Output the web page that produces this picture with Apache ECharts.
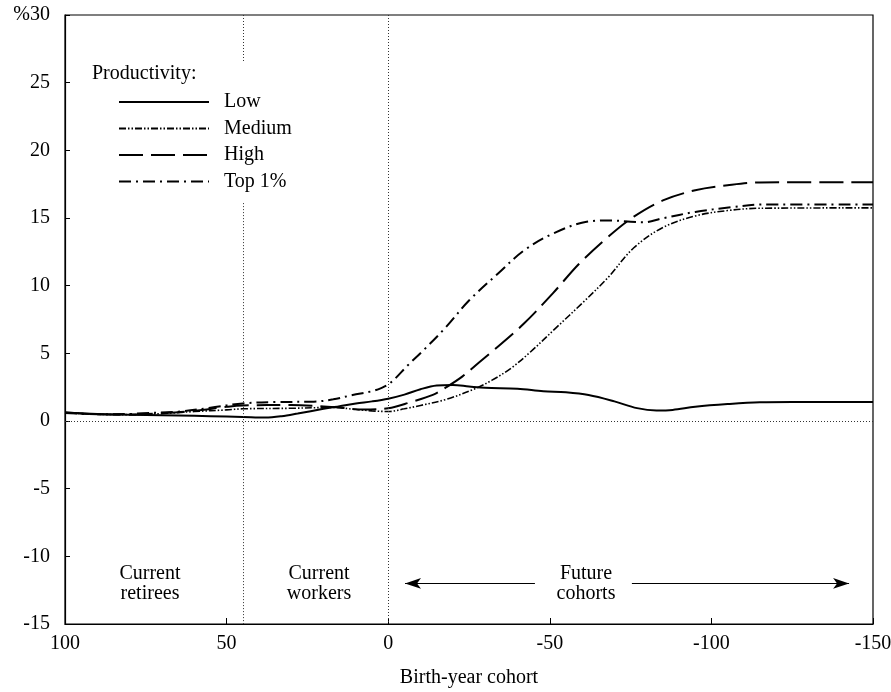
<!DOCTYPE html>
<html>
<head>
<meta charset="utf-8">
<script src="https://cdn.jsdelivr.net/npm/echarts@6/dist/echarts.min.js"></script>
<style>
html,body{margin:0;padding:0;background:#fff;}
#chart{width:891px;height:692px;}
</style>
</head>
<body>
<div id="chart"></div>
<script>
// Birth-year cohort (x) and % change (y) for each productivity group
const lowData = [[100,0.62],[90,0.52],[80,0.46],[70,0.42],[60,0.38],[50,0.33],[45,0.3],[38,0.25],[33,0.35],[28,0.55],[20,0.9],[15,1.1],[10,1.3],[5,1.45],[0,1.65],[-5,1.95],[-10,2.35],[-15,2.62],[-20,2.66],[-25,2.55],[-30,2.45],[-40,2.38],[-48,2.2],[-55,2.12],[-62,1.92],[-70,1.45],[-77,0.95],[-83,0.78],[-88,0.82],[-95,1.05],[-105,1.25],[-115,1.38],[-125,1.4],[-150,1.4]];
const mediumData = [[100,0.62],[90,0.5],[80,0.47],[70,0.55],[60,0.7],[50,0.82],[45,0.9],[30,0.94],[17,1.0],[10,0.85],[5,0.75],[0,0.7],[-5,0.9],[-10,1.15],[-18,1.6],[-27,2.4],[-32,3.0],[-38,3.9],[-44,5.1],[-52,6.9],[-60,8.7],[-68,10.6],[-76,12.8],[-85,14.3],[-95,15.15],[-105,15.55],[-115,15.72],[-150,15.75]];
const highData = [[100,0.62],[90,0.5],[80,0.48],[70,0.58],[60,0.75],[50,1.05],[45,1.15],[30,1.18],[20,1.08],[15,1.0],[8,0.85],[0,0.94],[-7,1.4],[-14,1.95],[-18,2.5],[-23,3.3],[-28,4.3],[-33,5.3],[-42,7.2],[-51,9.45],[-59,11.6],[-68,13.6],[-76,15.1],[-85,16.3],[-95,17.05],[-105,17.42],[-115,17.63],[-150,17.65]];
const topData = [[100,0.6],[90,0.5],[80,0.52],[76,0.57],[65,0.69],[55,0.98],[45,1.3],[35,1.4],[23,1.43],[17,1.6],[11,1.92],[5,2.2],[2,2.45],[0,2.7],[-2,3.1],[-6,4.1],[-11,5.25],[-18,6.97],[-25,8.9],[-34,10.9],[-42,12.6],[-51,13.85],[-61,14.7],[-69,14.82],[-75,14.72],[-79,14.68],[-85,14.98],[-95,15.45],[-106,15.79],[-116,16.0],[-150,16.0]];
const seriesNames = ['Low','Medium','High','Top 1%'];
const xTicks = [100, 50, 0, -50, -100, -150];
const yTicks = [-15,-10,-5,0,5,10,15,20,25,30];
const regionLabels = [
  {x: 73.7, y: -12.0, text: 'Current\nretirees'},
  {x: 21.4, y: -12.0, text: 'Current\nworkers'},
  {x: -61.2, y: -12.0, text: 'Future\ncohorts'}
];
const retireeBoundary = 44.8;

const FONT = 'Liberation Serif';
const FS = 20;
const chart = echarts.init(document.getElementById('chart'));

const dotted = {type:[1,2], color:'#333', width:1};

function lineSeries(name, data, lineStyle, extra) {
  return Object.assign({
    name, type:'line', data, symbol:'none', smooth:0.35,
    lineStyle: Object.assign({color:'#000'}, lineStyle),
    itemStyle:{color:'#000'},
    animation:false, z:3
  }, extra || {});
}

const option = {
  animation:false,
  backgroundColor:'#fff',
  grid:{left:65, right:18, top:15, bottom:68, show:true, borderColor:'#000', borderWidth:1.2,
        containLabel:false, outerBoundsMode:'none'},
  legend:{
    orient:'vertical', left:113, top:87,
    itemWidth:90, itemHeight:14, itemGap:6.5,
    data:seriesNames,
    itemStyle:{opacity:0},
    textStyle:{fontFamily:FONT, fontSize:FS, color:'#000', padding:[0,0,0,10]},
    selectedMode:false
  },
  graphic:[{
    type:'text', left:92, top:64,
    style:{text:'Productivity:', font:FS + 'px "Liberation Serif"', fill:'#000'}
  }],
  xAxis:{
    type:'value', inverse:true, min:-150, max:100, interval:50,
    name:'Birth-year cohort', nameLocation:'middle', nameGap:44,
    nameTextStyle:{fontFamily:FONT, fontSize:FS, color:'#000'},
    axisLine:{onZero:false, lineStyle:{color:'#000', width:1.2}},
    axisTick:{inside:true, length:6, lineStyle:{color:'#000'}},
    axisLabel:{fontFamily:FONT, fontSize:FS, color:'#000', margin:10,
      formatter: v => xTicks.includes(v) ? String(v) : ''},
    splitLine:{show:false}
  },
  yAxis:{
    type:'value', min:-15, max:30, interval:5,
    axisLine:{show:true, onZero:false, lineStyle:{color:'#000', width:1.2}},
    axisTick:{show:true, inside:true, length:5, lineStyle:{color:'#000'}},
    axisLabel:{fontFamily:FONT, fontSize:FS, color:'#000', margin:15,
      formatter: v => v === 30 ? '%30' : (yTicks.includes(v) ? String(v) : '')},
    splitLine:{show:false}
  },
  series:[
    lineSeries('Low', lowData, {width:2, type:'solid'}, {
      markLine:{
        silent:true, symbol:'none', label:{show:false}, animation:false,
        lineStyle:dotted,
        data:[
          [{coord:[100,0]},{coord:[-150,0]}],
          [{coord:[0,30]},{coord:[0,-15]}],
          [{coord:[retireeBoundary,30]},{coord:[retireeBoundary,26.5]}],
          [{coord:[retireeBoundary,16.1]},{coord:[retireeBoundary,-15]}]
        ]
      },
      markPoint:{
        silent:true, symbol:'circle', symbolSize:0, animation:false,
        label:{show:true, position:'inside', color:'#000', fontFamily:FONT, fontSize:FS, lineHeight:20,
          formatter: p => p.data.text},
        data: regionLabels.map(r => ({coord:[r.x, r.y], text:r.text}))
      }
    }),
    lineSeries('Medium', mediumData, {width:1.6, type:[7,2,1.5,2,1.5,2]}),
    lineSeries('High', highData, {width:2, type:[24,8]}),
    lineSeries('Top 1%', topData, {width:2, type:[12,5,2,5]}, {
      markLine:{
        silent:true, label:{show:false}, animation:false,
        lineStyle:{type:'solid', color:'#000', width:1},
        symbolSize:[8,16],
        data:[
          [{coord:[-5.2,-12], symbol:'arrow'},{coord:[-45.4,-12], symbol:'none'}],
          [{coord:[-75.4,-12], symbol:'none'},{coord:[-142.6,-12], symbol:'arrow'}]
        ]
      }
    })
  ]
};
chart.setOption(option);
</script>
</body>
</html>
